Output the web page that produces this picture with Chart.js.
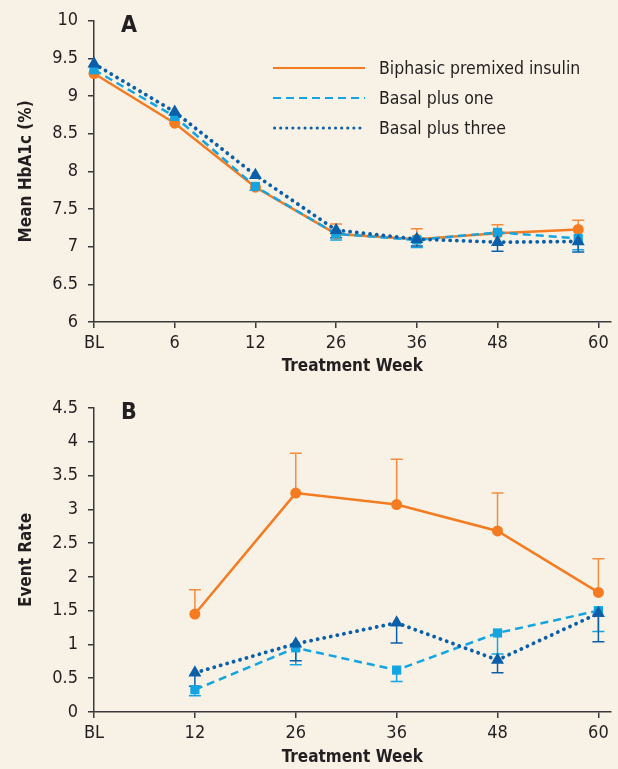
<!DOCTYPE html>
<html>
<head>
<meta charset="utf-8">
<script src="https://cdn.jsdelivr.net/npm/chart.js@4.4.1/dist/chart.umd.min.js"></script>
<style>
  html, body { margin: 0; padding: 0; background: #f8f2e6; }
  body { width: 618px; height: 769px; position: relative; overflow: hidden;
         font-family: "DejaVu Sans Condensed", "Liberation Sans Narrow", sans-serif; color: #231f20; }
  .panel { position: absolute; left: 0; width: 618px; }
  #wrapA { top: 0; height: 385px; }
  #wrapB { top: 385px; height: 384px; }
  .tag { position: absolute; font-weight: bold; font-size: 23px; }
  .legend { position: absolute; left: 273px; top: 53px; }
  .row { display: flex; align-items: center; height: 30px; }
  .row svg { width: 92px; height: 8px; margin-right: 14px; }
  .row span { font-size: 17.5px; }
</style>
</head>
<body>
<div class="panel" id="wrapA"><canvas id="chartA"></canvas></div>
<div class="panel" id="wrapB"><canvas id="chartB"></canvas></div>
<div class="tag" style="left:121px; top:11px;">A</div>
<div class="tag" style="left:121px; top:398px;">B</div>
<div class="legend">
  <div class="row"><svg><line x1="0" y1="4" x2="92" y2="4" stroke="#f47b20" stroke-width="2"/></svg><span>Biphasic premixed insulin</span></div>
  <div class="row"><svg><line x1="0" y1="4" x2="92" y2="4" stroke="#12a5e2" stroke-width="2" stroke-dasharray="8 5"/></svg><span>Basal plus one</span></div>
  <div class="row"><svg><line x1="1.5" y1="4" x2="92" y2="4" stroke="#0b5fa9" stroke-width="3" stroke-linecap="round" stroke-dasharray="0.1 6"/></svg><span>Basal plus three</span></div>
</div>
<script>
// panel A: mean HbA1c by treatment week
const weeksA = ["BL", "6", "12", "26", "36", "48", "60"];
const hba1cBiphasic = [9.30, 8.64, 7.79, 7.17, 7.10, 7.18, 7.23];
const hba1cPlusOne = [9.35, 8.73, 7.80, 7.17, 7.09, 7.19, 7.11];
const hba1cPlusThree = [9.43, 8.79, 7.95, 7.22, 7.10, 7.06, 7.07];
const hba1cBiphasicUpper = [null, null, null, 7.30, 7.24, 7.29, 7.35];
const hba1cPlusOneLower = [null, null, 7.75, 7.09, 6.99, null, 6.96];
const hba1cPlusThreeLower = [null, null, null, 7.12, 7.01, 6.94, 6.93];

// panel B: event rate by treatment week
const weeksB = ["BL", "12", "26", "36", "48", "60"];
const rateBiphasic = [null, 1.45, 3.24, 3.07, 2.68, 1.77];
const ratePlusOne = [null, 0.33, 0.95, 0.62, 1.17, 1.50];
const ratePlusThree = [null, 0.58, 1.01, 1.32, 0.77, 1.46];
const rateBiphasicUpper = [null, 1.81, 3.83, 3.74, 3.24, 2.27];
const ratePlusOneLower = [null, 0.24, 0.70, 0.45, 0.86, 1.19];
const ratePlusThreeLower = [null, 0.38, 0.76, 1.02, 0.58, 1.04];

const FONT = '"DejaVu Sans Condensed", "Liberation Sans Narrow", sans-serif';
const INK = "#231f20";
const ORANGE = "#f47b20";
const LIGHT = "#12a5e2";
const DARK = "#0b5fa9";

// vertical error bars with a cap, drawn under the markers
const errorBars = {
  id: "errorBars",
  beforeDatasetsDraw(chart) {
    const ctx = chart.ctx;
    const yScale = chart.scales.y;
    chart.data.datasets.forEach((ds, i) => {
      if (!ds.errEnd) return;
      const meta = chart.getDatasetMeta(i);
      meta.data.forEach((pt, j) => {
        const end = ds.errEnd[j];
        if (end == null || pt.skip) return;
        const yEnd = yScale.getPixelForValue(end);
        ctx.save();
        ctx.strokeStyle = ds.errColor;
        ctx.lineWidth = 1.5;
        ctx.beginPath();
        ctx.moveTo(pt.x, pt.y);
        ctx.lineTo(pt.x, yEnd);
        ctx.moveTo(pt.x - 6, yEnd);
        ctx.lineTo(pt.x + 6, yEnd);
        ctx.stroke();
        ctx.restore();
      });
    });
  }
};

function toPoints(values) {
  return values.map((v, i) => ({ x: i, y: v }));
}

function series(label, values, err, color, errColor, style) {
  const base = {
    label: label,
    data: toPoints(values),
    errEnd: err,
    errColor: errColor,
    borderColor: color,
    backgroundColor: color,
    pointBorderWidth: 0,
    pointHoverRadius: 6,
    tension: 0,
    clip: false,
    spanGaps: false
  };
  return Object.assign(base, style);
}

const orangeStyle = { borderWidth: 2.5, pointStyle: "circle", pointRadius: 5.5, order: 2 };
const lightStyle = { borderWidth: 2.5, borderDash: [8, 5], pointStyle: "rect", pointRadius: 6.5, order: 1 };
const darkStyle = { borderWidth: 3.8, borderDash: [0.1, 6.6], borderCapStyle: "round", pointStyle: "triangle", pointRadius: 7.5, order: 0 };

function makeChart(id, labels, datasets, opt) {
  return new Chart(document.getElementById(id), {
    type: "line",
    data: { datasets: datasets },
    options: {
      responsive: true,
      maintainAspectRatio: false,
      animation: false,
      layout: { padding: { top: opt.padTop, right: 5, left: 0, bottom: 0 } },
      plugins: { legend: { display: false }, tooltip: { enabled: false } },
      scales: {
        x: {
          type: "linear",
          min: 0,
          max: opt.xMax,
          afterBuildTicks: (s) => {
            s.ticks = labels.map((l, i) => ({ value: i + (i === labels.length - 1 ? opt.lastShift : 0) }));
          },
          afterFit: (s) => { s.height = opt.xHeight; },
          ticks: {
            autoSkip: false,
            maxRotation: 0,
            padding: 5,
            color: INK,
            font: { family: FONT, size: 18 },
            callback: (v, i) => labels[i]
          },
          grid: { drawOnChartArea: false, tickLength: 6, color: "#3a3a3a", lineWidth: 1.5 },
          border: { color: "#3a3a3a", width: 1.5 },
          title: {
            display: true,
            text: "Treatment Week",
            color: INK,
            font: { family: FONT, size: 17, weight: "bold" },
            padding: { top: 0, bottom: opt.xTitlePad }
          }
        },
        y: {
          min: opt.yMin,
          max: opt.yMax,
          afterFit: (s) => { s.width = 94; },
          ticks: {
            stepSize: 0.5,
            padding: 10,
            color: INK,
            font: { family: FONT, size: 18 },
            callback: (v) => String(v)
          },
          grid: { drawOnChartArea: false, tickLength: 6, color: "#3a3a3a", lineWidth: 1.5 },
          border: { color: "#3a3a3a", width: 1.5 },
          title: {
            display: true,
            text: opt.yTitle,
            color: INK,
            font: { family: FONT, size: 17, weight: "bold" },
            padding: { top: 16, bottom: 0 }
          }
        }
      }
    },
    plugins: [errorBars]
  });
}

makeChart("chartA", weeksA, [
  series("Biphasic premixed insulin", hba1cBiphasic, hba1cBiphasicUpper, ORANGE, "#f58b3f", orangeStyle),
  series("Basal plus one", hba1cPlusOne, hba1cPlusOneLower, LIGHT, LIGHT, lightStyle),
  series("Basal plus three", hba1cPlusThree, hba1cPlusThreeLower, DARK, DARK, darkStyle)
], { yMin: 6, yMax: 10, xMax: 6.4, lastShift: 0.25, padTop: 20, xHeight: 63, xTitlePad: 8, yTitle: "Mean HbA1c (%)" });

makeChart("chartB", weeksB, [
  series("Biphasic premixed insulin", rateBiphasic, rateBiphasicUpper, ORANGE, "#f58b3f", orangeStyle),
  series("Basal plus one", ratePlusOne, ratePlusOneLower, LIGHT, LIGHT, lightStyle),
  series("Basal plus three", ratePlusThree, ratePlusThreeLower, DARK, DARK, darkStyle)
], { yMin: 0, yMax: 4.5, xMax: 5.12, lastShift: 0, padTop: 23, xHeight: 57, xTitlePad: 1, yTitle: "Event Rate" });
</script>
</body>
</html>
